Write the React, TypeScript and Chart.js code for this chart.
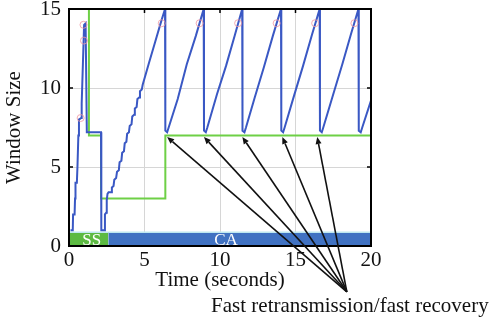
import React, { useEffect, useRef } from "react";
import { Chart, registerables } from "chart.js";

Chart.register(...registerables);

// ---- data ----
const cwndTime = [
  0.1, 0.25, 0.27, 0.37, 0.4, 0.43, 0.52, 0.56, 0.62, 0.66, 0.8, 0.84, 0.92, 1.0, 1.1, 1.18,
  2.12, 2.14, 2.36, 2.38, 2.46, 2.5, 2.55, 2.62, 2.8, 2.84, 2.95, 3.0, 3.12, 3.18, 3.3, 3.35,
  3.47, 3.52, 3.64, 3.69, 3.8, 3.85, 3.97, 4.02, 4.14, 4.19, 4.31, 4.36, 4.48, 4.53, 4.65, 4.7,
  4.82, 4.88, 5.3, 5.7, 6.1, 6.36,
  6.38, 6.5, 6.6, 7.2, 7.8, 8.4, 8.92,
  8.94, 9.06, 9.16, 9.8, 10.4, 11.0, 11.47,
  11.49, 11.62, 11.72, 12.3, 12.9, 13.5, 14.04,
  14.06, 14.18, 14.28, 14.9, 15.5, 16.1, 16.6,
  16.62, 16.74, 16.84, 17.5, 18.1, 18.7, 19.17,
  19.19, 19.32, 19.42, 20,
];
const cwndValue = [
  1, 1, 2, 2, 3, 4, 4, 5, 7, 8, 8.1, 9, 11.5, 14, 14.1, 7.2,
  7.2, 1, 1, 2, 2.1, 2.9, 3.3, 3.4, 3.4, 3.7, 3.8, 4.2, 4.3, 4.7, 4.8, 5.3,
  5.4, 5.9, 6.0, 6.5, 6.6, 7.1, 7.2, 7.6, 7.7, 8.2, 8.3, 8.7, 8.8, 9.3, 9.4, 9.8,
  9.9, 10.2, 11.6, 12.9, 14.2, 15,
  7.3, 7.2, 7.5, 9.3, 11.5, 13.3, 15,
  7.3, 7.2, 7.5, 9.6, 11.4, 13.4, 15,
  7.3, 7.2, 7.5, 9.4, 11.3, 13.3, 15,
  7.3, 7.2, 7.5, 9.5, 11.4, 13.4, 15,
  7.3, 7.2, 7.5, 9.6, 11.5, 13.5, 15,
  7.3, 7.2, 7.5, 9.2,
];
const ssthreshTime = [1.32, 1.32, 2.12, 2.12, 6.38, 6.38, 20];
const ssthreshValue = [16, 7, 7, 3, 3, 7, 7];
const lossTime = [0.77, 0.99, 0.96, 6.14, 8.65, 11.2, 13.75, 16.3, 18.9];
const lossValue = [8.1, 13, 14, 14.1, 14.1, 14.1, 14.1, 14.1, 14.1];

const phaseLabels = ["SS", "CA"];
const phaseStart = [0, 2.6];
const phaseEnd = [2.6, 20];
const phaseLevel = 0.87;
const phaseLabelX = [1.5, 10.4];

const arrowTipX = [6.5, 8.94, 11.48, 14.13, 16.44];
const arrowTipY = 6.9;
const arrowOrigin = [18.4, -2.9];
const annotationText = "Fast retransmission/fast recovery";
const annotationPos = [18.6, -4.2];

const xTickValues = [0, 5, 10, 15, 20];
const yTickValues = [0, 5, 10, 15];
const xTitle = "Time (seconds)";
const yTitle = "Window Size";

const SERIF = "'Liberation Serif', 'Times New Roman', serif";

const overlay = {
  id: "overlay",
  afterDatasetsDraw(chart: any) {
    const { ctx, chartArea: a, scales } = chart;
    const xs = scales.x;
    const ys = scales.y;
    ctx.save();
    // phase labels
    ctx.fillStyle = "#ffffff";
    ctx.font = `17px ${SERIF}`;
    ctx.textAlign = "center";
    ctx.textBaseline = "middle";
    phaseLabels.forEach((t, i) => {
      ctx.fillText(t, xs.getPixelForValue(phaseLabelX[i]), ys.getPixelForValue(phaseLevel / 2) + 1);
    });
    // frame
    ctx.strokeStyle = "#000";
    ctx.lineWidth = 2;
    ctx.strokeRect(a.left, a.top, a.right - a.left, a.bottom - a.top);
    // inward tick marks
    ctx.lineWidth = 1.5;
    const seg = (x1: number, y1: number, x2: number, y2: number) => {
      ctx.beginPath();
      ctx.moveTo(x1, y1);
      ctx.lineTo(x2, y2);
      ctx.stroke();
    };
    xTickValues.forEach((v) => {
      const px = xs.getPixelForValue(v);
      seg(px, a.top, px, a.top + 4);
    });
    yTickValues.forEach((v) => {
      const py = ys.getPixelForValue(v);
      seg(a.left, py, a.left + 4, py);
      seg(a.right, py, a.right - 4, py);
    });
    // arrows
    const ox = xs.getPixelForValue(arrowOrigin[0]);
    const oy = ys.getPixelForValue(arrowOrigin[1]);
    ctx.strokeStyle = "#111";
    ctx.fillStyle = "#111";
    ctx.lineWidth = 1.6;
    arrowTipX.forEach((tx) => {
      const px = xs.getPixelForValue(tx);
      const py = ys.getPixelForValue(arrowTipY);
      const ang = Math.atan2(py - oy, px - ox);
      const hl = 7;
      const hw = 3;
      const bx = px - hl * Math.cos(ang);
      const by = py - hl * Math.sin(ang);
      seg(ox, oy, bx, by);
      ctx.beginPath();
      ctx.moveTo(px, py);
      ctx.lineTo(bx + hw * Math.sin(ang), by - hw * Math.cos(ang));
      ctx.lineTo(bx - hw * Math.sin(ang), by + hw * Math.cos(ang));
      ctx.closePath();
      ctx.fill();
    });
    // annotation
    ctx.fillStyle = "#111";
    ctx.font = `21px ${SERIF}`;
    ctx.textAlign = "center";
    ctx.textBaseline = "alphabetic";
    ctx.fillText(annotationText, xs.getPixelForValue(annotationPos[0]), ys.getPixelForValue(annotationPos[1]));
    ctx.restore();
  },
};

export default function App() {
  const ref = useRef<HTMLCanvasElement>(null);
  useEffect(() => {
    if (!ref.current) return;
    const pts = (xs: number[], ys: number[]) => xs.map((x, i) => ({ x, y: ys[i] }));
    const chart = new Chart(ref.current, {
      type: "line",
      data: {
        datasets: [
          {
            label: "cwnd",
            data: pts(cwndTime, cwndValue),
            borderColor: "rgb(58, 88, 196)",
            borderWidth: 2,
            pointRadius: 0,
            tension: 0,
            fill: false,
            order: 1,
          },
          {
            label: "loss",
            data: pts(lossTime, lossValue),
            showLine: false,
            pointRadius: 3.5,
            pointBorderWidth: 1,
            pointBorderColor: "rgba(240, 150, 160, 0.8)",
            pointBackgroundColor: "rgba(0,0,0,0)",
            order: 0,
          },
          {
            label: "ssthresh",
            data: pts(ssthreshTime, ssthreshValue),
            borderColor: "rgb(110, 208, 70)",
            borderWidth: 2,
            pointRadius: 0,
            tension: 0,
            fill: false,
            order: 2,
          },
          {
            label: phaseLabels[0],
            data: [
              { x: phaseStart[0], y: phaseLevel },
              { x: phaseEnd[0], y: phaseLevel },
            ],
            borderColor: "rgb(190, 232, 240)",
            borderWidth: 1.5,
            backgroundColor: "rgb(92, 186, 66)",
            pointRadius: 0,
            fill: "origin",
            order: 3,
          },
          {
            label: phaseLabels[1],
            data: [
              { x: phaseStart[1], y: phaseLevel },
              { x: phaseEnd[1], y: phaseLevel },
            ],
            borderColor: "rgb(190, 232, 240)",
            borderWidth: 1.5,
            backgroundColor: "rgb(64, 114, 194)",
            pointRadius: 0,
            fill: "origin",
            order: 3,
          },
        ],
      },
      options: {
        animation: false,
        responsive: false,
        maintainAspectRatio: false,
        layout: { padding: { left: 0, top: 9, right: 123, bottom: 0 } },
        plugins: { legend: { display: false }, tooltip: { enabled: false } },
        scales: {
          x: {
            type: "linear",
            min: 0,
            max: 20,
            afterBuildTicks: (s: any) => {
              s.ticks = xTickValues.map((v) => ({ value: v }));
            },
            afterFit: (s: any) => {
              s.height = 78;
              s.paddingLeft = 0;
              s.paddingRight = 0;
            },
            grid: { color: "#d6d6d6", lineWidth: 1, drawTicks: false },
            border: { display: false },
            ticks: {
              padding: 2,
              color: "#111",
              font: { family: SERIF, size: 21 },
              maxRotation: 0,
              autoSkip: false,
            },
            title: {
              display: true,
              text: xTitle,
              color: "#111",
              font: { family: SERIF, size: 21 },
              padding: { top: 0, bottom: 31 },
            },
          },
          y: {
            type: "linear",
            min: 0,
            max: 15,
            afterBuildTicks: (s: any) => {
              s.ticks = yTickValues.map((v) => ({ value: v }));
            },
            afterFit: (s: any) => {
              s.width = 69;
              s.paddingTop = 0;
              s.paddingBottom = 0;
            },
            grid: { color: "#d6d6d6", lineWidth: 1, drawTicks: false },
            border: { display: false },
            ticks: {
              padding: 8,
              color: "#111",
              font: { family: SERIF, size: 21 },
            },
            title: {
              display: true,
              text: yTitle,
              color: "#111",
              font: { family: SERIF, size: 21 },
              padding: { top: 2, bottom: 0 },
            },
          },
        },
      },
      plugins: [overlay],
    } as any);
    return () => chart.destroy();
  }, []);
  return (
    <div style={{ position: "fixed", left: 0, top: 0, width: 494, height: 324, background: "#fff" }}>
      <canvas ref={ref} width={494} height={324} style={{ display: "block" }} />
    </div>
  );
}
